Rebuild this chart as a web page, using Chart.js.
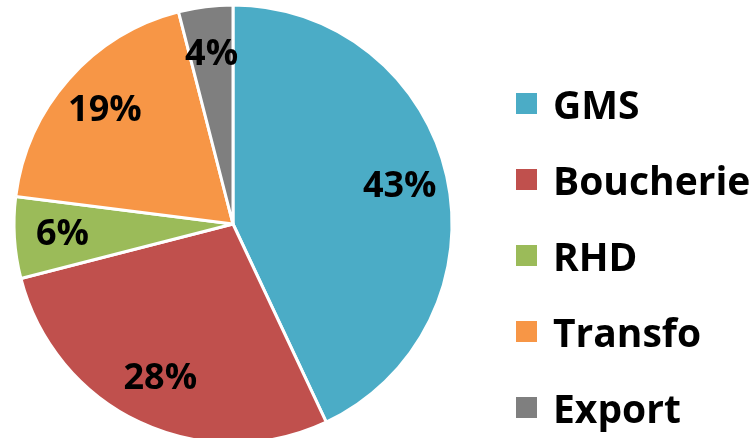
<!DOCTYPE html>
<html>
<head>
<meta charset="utf-8">
<script src="https://cdn.jsdelivr.net/npm/chart.js@4"></script>
<style>
  html, body { margin: 0; padding: 0; background: #fff; overflow: hidden; }
  #wrap { position: relative; width: 756px; height: 438px; }
  #legend { position: absolute; left: 516px; top: 65px; font-family: "Open Sans", sans-serif; font-weight: bold; font-size: 39px; color: #000; }
  #legend div { height: 76.2px; display: flex; align-items: center; white-space: nowrap; }
  #legend span.box { display: inline-block; width: 21px; height: 21px; margin-right: 16px; }
  #legend span.txt { line-height: 1; }
</style>
</head>
<body>
<div id="wrap">
  <canvas id="pieChart" width="756" height="438"></canvas>
  <div id="legend"></div>
</div>
<script>
const labels = ['GMS', 'Boucherie', 'RHD', 'Transfo', 'Export'];
const shares = [43, 28, 6, 19, 4];
const colors = ['#4BACC6', '#C0504D', '#9BBB59', '#F79646', '#7F7F7F'];

// legend on the right, built from the same arrays
const legendEl = document.getElementById('legend');
labels.forEach((name, i) => {
    const row = document.createElement('div');
    row.innerHTML = '<span class="box" style="background:' + colors[i] + '"></span><span class="txt">' + name + '</span>';
    legendEl.appendChild(row);
});

// percent labels inside the slices
const sliceLabels = {
    id: 'sliceLabels',
    afterDatasetsDraw(chart) {
        const ctx = chart.ctx;
        const meta = chart.getDatasetMeta(0);
        ctx.save();
        ctx.font = 'bold 36px "Open Sans", sans-serif';
        ctx.fillStyle = '#000';
        ctx.textAlign = 'center';
        ctx.textBaseline = 'middle';
        meta.data.forEach((arc, i) => {
            const mid = (arc.startAngle + arc.endAngle) / 2;
            const r = arc.outerRadius * 0.78;
            ctx.fillText(shares[i] + '%', arc.x + Math.cos(mid) * r, arc.y + Math.sin(mid) * r);
        });
        ctx.restore();
    }
};

new Chart(document.getElementById('pieChart').getContext('2d'), {
    type: 'pie',
    data: {
        labels: labels,
        datasets: [{
            data: shares,
            backgroundColor: colors,
            borderColor: '#fff',
            borderWidth: 3,
            radius: 219,
            clip: false
        }]
    },
    options: {
        responsive: false,
        animation: false,
        layout: { padding: { left: 0, right: 290, top: 10, bottom: 0 } },
        plugins: {
            legend: { display: false },
            tooltip: { enabled: false }
        }
    },
    plugins: [sliceLabels]
});
</script>
</body>
</html>
